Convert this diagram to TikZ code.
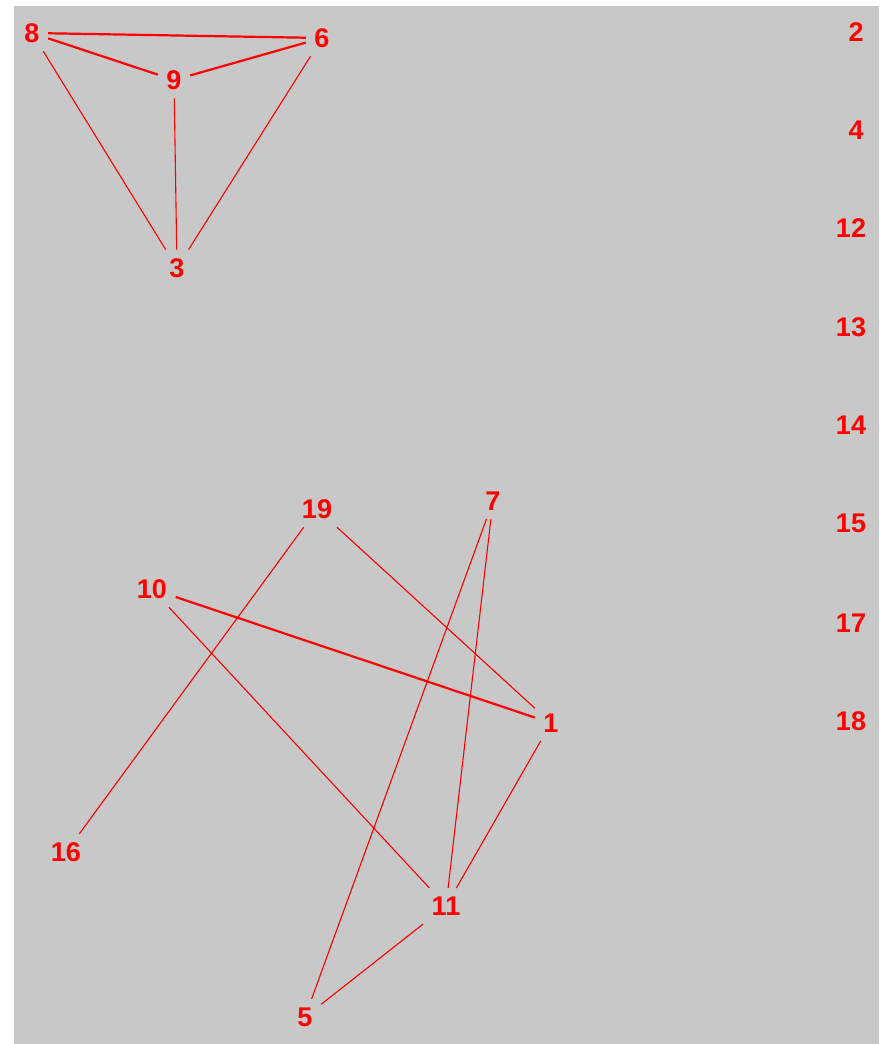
\documentclass[tikz,border=0pt]{standalone}
\usepackage{fontspec}
\setmainfont{Liberation Sans}
\definecolor{bg}{HTML}{C8C8C8}
\definecolor{rd}{HTML}{FF0000}
\begin{document}
\begin{tikzpicture}[x=1pt,y=-1pt,
  lbl/.style={text=rd,font=\fontsize{27}{27}\selectfont\bfseries,inner sep=8.5pt},
  thin edge/.style={draw=rd,line width=1.1pt},
  thick edge/.style={draw=rd,line width=2.2pt}]
\useasboundingbox (0,0) rectangle (879,1044);
\fill[white] (0,0) rectangle (879,1044);
\fill[bg] (14,6) rectangle (879,1044);
% nodes
\node[lbl] (n8) at (32,33) {8};
\node[lbl] (n6) at (322,38) {6};
\node[lbl] (n9) at (174,80) {9};
\node[lbl] (n3) at (177,268) {3};
\node[lbl] (n2) at (856,32) {2};
\node[lbl] (n4) at (856,130) {4};
\node[lbl] (n12) at (851,228) {12};
\node[lbl] (n13) at (851,327) {13};
\node[lbl] (n14) at (851,425) {14};
\node[lbl] (n15) at (851,523) {15};
\node[lbl] (n17) at (851,623) {17};
\node[lbl] (n18) at (851,721) {18};
\node[lbl] (n19) at (317,509) {19};
\node[lbl] (n7) at (493,501) {7};
\node[lbl] (n10) at (152,589) {10};
\node[lbl] (n1) at (551,723) {1};
\node[lbl] (n16) at (66,852) {16};
\node[lbl] (n11) at (446,906) {11};
\node[lbl] (n5) at (305,1017) {5};
% edges
\draw[thick edge] (n8) -- (n6);
\draw[thick edge] (n8) -- (n9);
\draw[thick edge] (n9) -- (n6);
\draw[thin edge] (n8) -- (n3);
\draw[thin edge] (n9) -- (n3);
\draw[thin edge] (n6) -- (n3);
\draw[thin edge] (n19) -- (n16);
\draw[thin edge] (n19) -- (n1);
\draw[thick edge] (n10) -- (n1);
\draw[thin edge] (n10) -- (n11);
\draw[thin edge] (n7) -- (n5);
\draw[thin edge] (n7) -- (n11);
\draw[thin edge] (n1) -- (n11);
\draw[thin edge] (n11) -- (n5);
\end{tikzpicture}
\end{document}
